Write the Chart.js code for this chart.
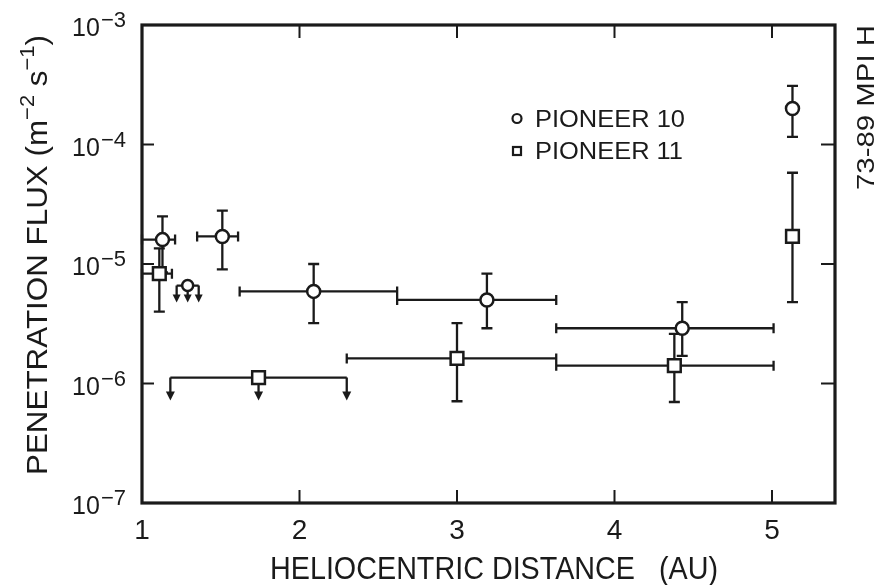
<!DOCTYPE html>
<html>
<head>
<meta charset="utf-8">
<script src="https://cdn.jsdelivr.net/npm/chart.js@4"></script>
<style>
  html, body { margin: 0; padding: 0; background: #fff; }
  #wrap { width: 875px; height: 585px; }
</style>
</head>
<body>
<div id="wrap"><canvas id="flux-chart" width="875" height="585"></canvas></div>
<script>
// ===== values =====
// Pioneer 10 (circles)
const p10Dist = [1.13, 1.51, 2.09, 3.19, 4.43, 5.13];
const p10Flux = [1.6e-5, 1.7e-5, 5.9e-6, 5.0e-6, 2.9e-6, 2.0e-4];
const p10DistLo = [1.0, 1.35, 1.62, 2.62, 3.63, null];
const p10DistHi = [1.21, 1.61, 2.62, 3.63, 5.01, null];
const p10FluxLo = [8.5e-6, 9.0e-6, 3.2e-6, 2.9e-6, 1.7e-6, 1.16e-4];
const p10FluxHi = [2.5e-5, 2.8e-5, 1.0e-5, 8.3e-6, 4.8e-6, 3.1e-4];

// Pioneer 11 (squares)
const p11Dist = [1.11, 3.0, 4.38, 5.13];
const p11Flux = [8.3e-6, 1.62e-6, 1.41e-6, 1.7e-5];
const p11DistLo = [1.0, 2.30, 3.63, null];
const p11DistHi = [1.19, 3.63, 5.01, null];
const p11FluxLo = [4.0e-6, 7.1e-7, 7.0e-7, 4.8e-6];
const p11FluxHi = [1.35e-5, 3.2e-6, 2.6e-6, 5.8e-5];

// upper limits (arrows pointing down)
const p10LimDist = [1.29];
const p10LimFlux = [6.6e-6];
const p10LimFrom = [1.22];
const p10LimTo = [1.36];
const p11LimDist = [1.74];
const p11LimFlux = [1.12e-6];
const p11LimFrom = [1.18];
const p11LimTo = [2.30];

const xTickValues = [1, 2, 3, 4, 5];
const yTickExps = [-3, -4, -5, -6, -7];
const seriesNames = ['PIONEER 10', 'PIONEER 11'];
const xTitle = 'HELIOCENTRIC DISTANCE   (AU)';
const sideNote = '73-89 MPI H';

const INK = '#1a1a1a';
const FONT = '"Liberation Sans", Arial, sans-serif';

function toPoints(xs, ys) {
    return xs.map((v, i) => ({ x: v, y: ys[i] }));
}

// draw text squeezed/stretched to a given width
function fitText(ctx, str, x, y, width) {
    const w = ctx.measureText(str).width;
    ctx.save();
    ctx.translate(x, y);
    ctx.scale(width / w, 1);
    ctx.fillText(str, 0, 0);
    ctx.restore();
}

function drawErrorBars(ctx, xs, ys, xs1, xs2, ys1, ys2, sx, sy) {
    ctx.beginPath();
    for (let i = 0; i < xs.length; i++) {
        const px = sx.getPixelForValue(xs[i]);
        const py = sy.getPixelForValue(ys[i]);
        if (xs1[i] != null) {
            const a = sx.getPixelForValue(xs1[i]);
            const b = sx.getPixelForValue(xs2[i]);
            ctx.moveTo(a, py); ctx.lineTo(b, py);
            ctx.moveTo(a, py - 5); ctx.lineTo(a, py + 5);
            ctx.moveTo(b, py - 5); ctx.lineTo(b, py + 5);
        }
        if (ys1[i] != null) {
            const t = sy.getPixelForValue(ys2[i]);
            const u = sy.getPixelForValue(ys1[i]);
            ctx.moveTo(px, t); ctx.lineTo(px, u);
            ctx.moveTo(px - 5.5, t); ctx.lineTo(px + 5.5, t);
            ctx.moveTo(px - 5.5, u); ctx.lineTo(px + 5.5, u);
        }
    }
    ctx.stroke();
}

function arrowHead(ctx, x, tip, size) {
    ctx.beginPath();
    ctx.moveTo(x - size / 2, tip - size);
    ctx.lineTo(x + size / 2, tip - size);
    ctx.lineTo(x, tip);
    ctx.closePath();
    ctx.fill();
}

function drawLimits(ctx, xs, ys, from, to, sx, sy, drop, head) {
    for (let i = 0; i < xs.length; i++) {
        const py = sy.getPixelForValue(ys[i]);
        const tip = py + drop;
        const pts = [sx.getPixelForValue(from[i]), sx.getPixelForValue(xs[i]), sx.getPixelForValue(to[i])];
        ctx.beginPath();
        ctx.moveTo(pts[0], py); ctx.lineTo(pts[2], py);
        pts.forEach(p => { ctx.moveTo(p, py); ctx.lineTo(p, tip - head + 1); });
        ctx.stroke();
        pts.forEach(p => arrowHead(ctx, p, tip, head));
    }
}

const errorPlugin = {
    id: 'errorPlugin',
    beforeDatasetsDraw(chart) {
        const { ctx, scales: { x, y } } = chart;
        ctx.save();
        ctx.strokeStyle = INK;
        ctx.fillStyle = INK;
        ctx.lineWidth = 2.3;
        drawErrorBars(ctx, p10Dist, p10Flux, p10DistLo, p10DistHi, p10FluxLo, p10FluxHi, x, y);
        drawErrorBars(ctx, p11Dist, p11Flux, p11DistLo, p11DistHi, p11FluxLo, p11FluxHi, x, y);
        drawLimits(ctx, p10LimDist, p10LimFlux, p10LimFrom, p10LimTo, x, y, 17, 8);
        drawLimits(ctx, p11LimDist, p11LimFlux, p11LimFrom, p11LimTo, x, y, 23, 9);
        ctx.restore();
    }
};

const framePlugin = {
    id: 'framePlugin',
    afterDraw(chart) {
        const { ctx, chartArea: a, scales: { x, y } } = chart;
        ctx.save();
        ctx.strokeStyle = INK;
        ctx.fillStyle = INK;

        // frame
        ctx.lineWidth = 3.2;
        ctx.strokeRect(a.left, a.top, a.right - a.left, a.bottom - a.top);

        // inward ticks
        ctx.lineWidth = 2;
        ctx.beginPath();
        xTickValues.forEach(v => {
            if (v === 1) return;
            const px = x.getPixelForValue(v);
            ctx.moveTo(px, a.bottom); ctx.lineTo(px, a.bottom - 13);
            ctx.moveTo(px, a.top); ctx.lineTo(px, a.top + 13);
        });
        yTickExps.forEach(e => {
            if (e === -3 || e === -7) return;
            const py = y.getPixelForValue(Math.pow(10, e));
            ctx.moveTo(a.left, py); ctx.lineTo(a.left + 12, py);
            ctx.moveTo(a.right, py); ctx.lineTo(a.right - 14, py);
        });
        ctx.stroke();

        // x tick labels
        ctx.font = '28px ' + FONT;
        ctx.textAlign = 'center';
        ctx.textBaseline = 'alphabetic';
        xTickValues.forEach(v => {
            ctx.fillText(String(v), x.getPixelForValue(v), a.bottom + 36);
        });

        // y tick labels: 10 with superscript exponent
        yTickExps.forEach(e => {
            const py = y.getPixelForValue(Math.pow(10, e));
            const sup = '\u2212' + Math.abs(e);
            ctx.textAlign = 'left';
            ctx.font = '22px ' + FONT;
            const supW = ctx.measureText(sup).width;
            const supX = 126 - supW;
            ctx.fillText(sup, supX, py + 2);
            ctx.font = '25px ' + FONT;
            ctx.textAlign = 'right';
            ctx.fillText('10', supX - 1, py + 11);
        });

        // x title
        ctx.textAlign = 'left';
        ctx.font = '31px ' + FONT;
        fitText(ctx, xTitle, 270, 579, 448);

        // y title, rotated, with superscripts
        ctx.save();
        ctx.translate(47, 475);
        ctx.rotate(-Math.PI / 2);
        const parts = [
            ['PENETRATION FLUX (m', 30, 0],
            ['\u22122', 21, -13],
            [' s', 30, 0],
            ['\u22121', 21, -13],
            [')', 30, 0]
        ];
        let total = 0;
        parts.forEach(p => { ctx.font = p[1] + 'px ' + FONT; total += ctx.measureText(p[0]).width; });
        ctx.scale(440 / total, 1);
        let cx = 0;
        parts.forEach(p => {
            ctx.font = p[1] + 'px ' + FONT;
            ctx.fillText(p[0], cx, p[2]);
            cx += ctx.measureText(p[0]).width;
        });
        ctx.restore();

        // side note
        ctx.save();
        ctx.translate(874, 190);
        ctx.rotate(-Math.PI / 2);
        ctx.font = '24px ' + FONT;
        fitText(ctx, sideNote, 0, 0, 165);
        ctx.restore();

        // legend
        ctx.lineWidth = 2.2;
        ctx.beginPath();
        ctx.arc(517, 118.5, 4.5, 0, Math.PI * 2);
        ctx.stroke();
        ctx.strokeRect(513, 147, 8, 8);
        ctx.font = '24px ' + FONT;
        fitText(ctx, seriesNames[0], 535, 127, 150);
        fitText(ctx, seriesNames[1], 535, 159, 148);

        ctx.restore();
    }
};

const markerBase = {
    showLine: false,
    pointBackgroundColor: '#fff',
    pointBorderColor: INK,
    pointBorderWidth: 2.5
};

new Chart(document.getElementById('flux-chart'), {
    type: 'scatter',
    data: {
        datasets: [
            { ...markerBase, label: seriesNames[0], data: toPoints(p10Dist, p10Flux), pointStyle: 'circle', pointRadius: 6.5 },
            { ...markerBase, label: seriesNames[1], data: toPoints(p11Dist, p11Flux), pointStyle: 'rect', pointRadius: 9 },
            { ...markerBase, label: 'P10 limit', data: toPoints(p10LimDist, p10LimFlux), pointStyle: 'circle', pointRadius: 5.5 },
            { ...markerBase, label: 'P11 limit', data: toPoints(p11LimDist, p11LimFlux), pointStyle: 'rect', pointRadius: 9 }
        ]
    },
    options: {
        responsive: false,
        devicePixelRatio: 1,
        animation: false,
        layout: { padding: { left: 142, top: 25, right: 40, bottom: 82 } },
        plugins: {
            legend: { display: false },
            tooltip: { enabled: false }
        },
        scales: {
            x: { type: 'linear', min: 1, max: 5.4, display: false },
            y: { type: 'logarithmic', min: 1e-7, max: 1e-3, display: false }
        }
    },
    plugins: [errorPlugin, framePlugin]
});
</script>
</body>
</html>
